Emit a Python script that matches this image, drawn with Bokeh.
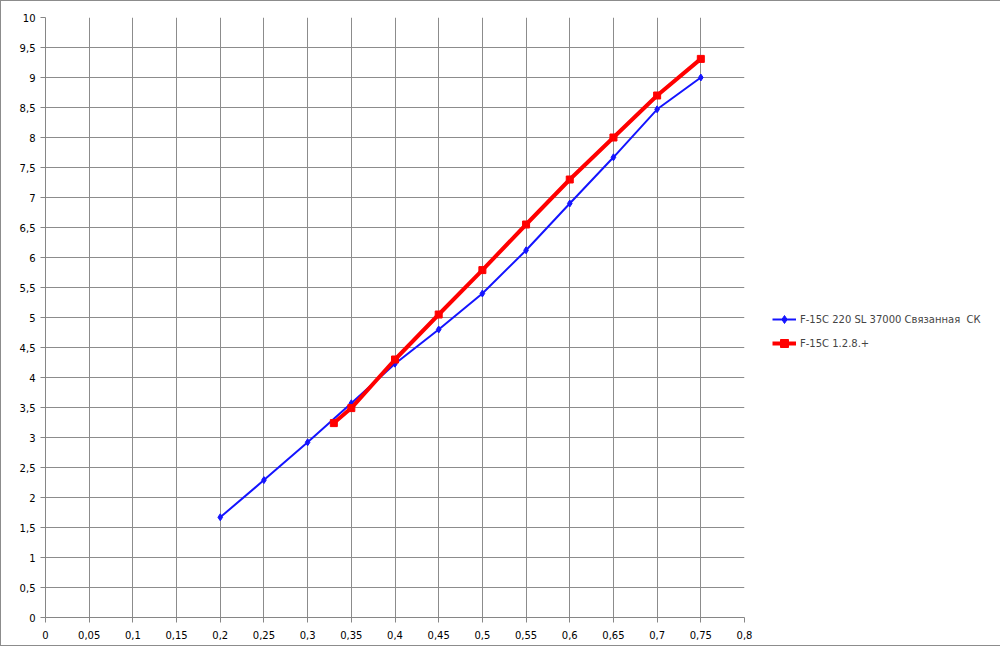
from bokeh.plotting import figure
from bokeh.models import FixedTicker, Legend, LegendItem
from bokeh.embed import file_html
from bokeh.resources import INLINE

# ---- data ----
x_blue = [0.2, 0.25, 0.3, 0.35, 0.4, 0.45, 0.5, 0.55, 0.6, 0.65, 0.7, 0.75]
y_blue = [1.67, 2.29, 2.92, 3.57, 4.23, 4.8, 5.4, 6.12, 6.9, 7.67, 8.47, 9.0]
x_red = [0.33, 0.35, 0.4, 0.45, 0.5, 0.55, 0.6, 0.65, 0.7, 0.75]
y_red = [3.24, 3.49, 4.3, 5.05, 5.79, 6.55, 7.3, 8.0, 8.7, 9.31]
name_blue = "F-15C 220 SL 37000 Связанная  СК"
name_red = "F-15C 1.2.8.+"

x_ticks = [0, 0.05, 0.1, 0.15, 0.2, 0.25, 0.3, 0.35, 0.4, 0.45, 0.5, 0.55, 0.6, 0.65, 0.7, 0.75, 0.8]
x_labels = ["0", "0,05", "0,1", "0,15", "0,2", "0,25", "0,3", "0,35", "0,4", "0,45", "0,5",
            "0,55", "0,6", "0,65", "0,7", "0,75", "0,8"]
y_ticks = [0, 0.5, 1, 1.5, 2, 2.5, 3, 3.5, 4, 4.5, 5, 5.5, 6, 6.5, 7, 7.5, 8, 8.5, 9, 9.5, 10]
y_labels = ["0", "0,5", "1", "1,5", "2", "2,5", "3", "3,5", "4", "4,5", "5", "5,5", "6", "6,5",
            "7", "7,5", "8", "8,5", "9", "9,5", "10"]

GRID = "#8c8c8c"
FONT = "DejaVu Sans"

p = figure(frame_width=699, frame_height=600,
           min_border_left=44, min_border_right=239, min_border_top=16, min_border_bottom=28,
           x_range=(0, 0.8), y_range=(0, 10),
           output_backend="svg", toolbar_location=None, tools="")
p.outline_line_color = None
p.background_fill_color = "white"
p.border_fill_color = "white"
p.styles = {"border": "1px solid #8c8c8c"}

for ax, ticks, labels in ((p.xaxis[0], x_ticks, x_labels), (p.yaxis[0], y_ticks, y_labels)):
    ax.ticker = FixedTicker(ticks=ticks)
    ax.major_label_overrides = {t: l for t, l in zip(ticks, labels)}
    ax.minor_tick_line_color = None
    ax.major_tick_in = 0
    ax.major_tick_out = 5
    ax.axis_line_color = "#868686"
    ax.major_tick_line_color = "#868686"
    ax.major_label_text_font = FONT
    ax.major_label_text_font_size = "10px"
    ax.major_label_text_color = "black"

p.xaxis.major_label_standoff = 8
p.yaxis.major_label_standoff = 5

p.xgrid.ticker = FixedTicker(ticks=x_ticks)
p.ygrid.ticker = FixedTicker(ticks=y_ticks)
for g in (p.xgrid, p.ygrid):
    g.grid_line_color = GRID
    g.grid_line_width = 1

lb = p.line(x_blue, y_blue, line_color="#1414ff", line_width=2)
sb = p.scatter(x_blue, y_blue, marker="diamond", size=7, fill_color="#1414ff", line_color="#1414ff")
lr = p.line(x_red, y_red, line_color="#ff0000", line_width=4)
sr = p.scatter(x_red, y_red, marker="square", size=7, fill_color="#ff0000", line_color="#ff0000")

legend = Legend(items=[LegendItem(label=name_blue, renderers=[lb, sb]),
                       LegendItem(label=name_red, renderers=[lr, sr])],
                location=(28, 264), padding=0, margin=0, spacing=4,
                glyph_width=24, glyph_height=20, label_height=20, label_standoff=4,
                label_text_font=FONT, label_text_font_size="10px",
                border_line_alpha=0, background_fill_alpha=0)
p.add_layout(legend, "right")

open("out.html", "w").write(file_html(p, INLINE))
